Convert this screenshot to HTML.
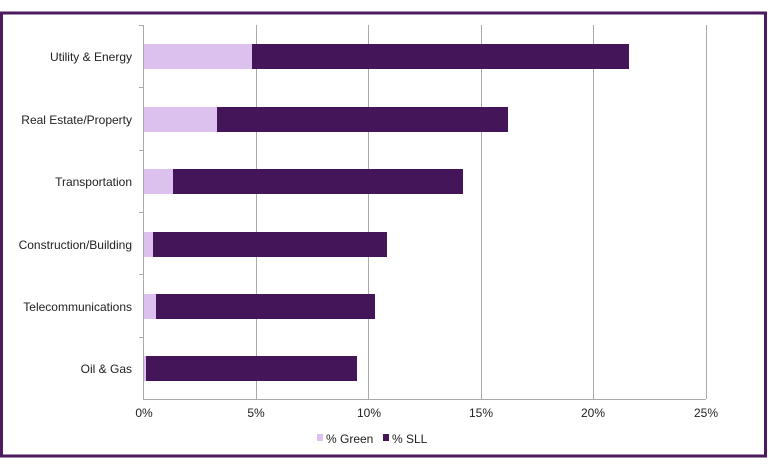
<!DOCTYPE html><html><head><style>body{margin:0;background:#fff}svg{display:block}text{font-family:"Liberation Sans",sans-serif;font-size:12px;fill:#222}</style></head><body>
<svg width="768" height="471" viewBox="0 0 768 471">
<rect x="1.5" y="13" width="764" height="443" fill="#fff" stroke="#4b1a5f" stroke-width="3"/>
<g stroke="#aaa" stroke-width="1">
<line x1="256.5" y1="25" x2="256.5" y2="399"/><line x1="368.5" y1="25" x2="368.5" y2="399"/><line x1="481.5" y1="25" x2="481.5" y2="399"/><line x1="593.5" y1="25" x2="593.5" y2="399"/><line x1="706.5" y1="25" x2="706.5" y2="399"/>
<line x1="143.5" y1="25" x2="143.5" y2="399"/><line x1="143" y1="399.5" x2="706" y2="399.5"/>
<line x1="139" y1="25.5" x2="143" y2="25.5"/><line x1="139" y1="87.5" x2="143" y2="87.5"/><line x1="139" y1="150.5" x2="143" y2="150.5"/><line x1="139" y1="212.5" x2="143" y2="212.5"/><line x1="139" y1="274.5" x2="143" y2="274.5"/><line x1="139" y1="337.5" x2="143" y2="337.5"/>
</g>
<g fill="#dcc0ed">
<rect x="144" y="44" width="108" height="25"/><rect x="144" y="107" width="73" height="25"/><rect x="144" y="169" width="29" height="25"/><rect x="144" y="232" width="9" height="25"/><rect x="144" y="294" width="12" height="25"/><rect x="144" y="356" width="2" height="25"/>
</g>
<g fill="#45155a">
<rect x="252" y="44" width="377" height="25"/><rect x="217" y="107" width="291" height="25"/><rect x="173" y="169" width="290" height="25"/><rect x="153" y="232" width="234" height="25"/><rect x="156" y="294" width="219" height="25"/><rect x="146" y="356" width="211" height="25"/>
</g>
<g text-anchor="end">
<text x="132" y="61">Utility &amp; Energy</text><text x="132" y="124">Real Estate/Property</text><text x="132" y="186">Transportation</text><text x="132" y="249">Construction/Building</text><text x="132" y="311">Telecommunications</text><text x="132" y="373">Oil &amp; Gas</text>
</g>
<g text-anchor="middle">
<text x="144" y="417">0%</text><text x="256" y="417">5%</text><text x="369" y="417">10%</text><text x="481" y="417">15%</text><text x="593" y="417">20%</text><text x="706" y="417">25%</text>
</g>
<rect x="317" y="434" width="6" height="7" fill="#dcc0ed"/><text x="326" y="443">% Green</text>
<rect x="383" y="434" width="6" height="7" fill="#45155a"/><text x="392" y="443">% SLL</text>
</svg></body></html>
